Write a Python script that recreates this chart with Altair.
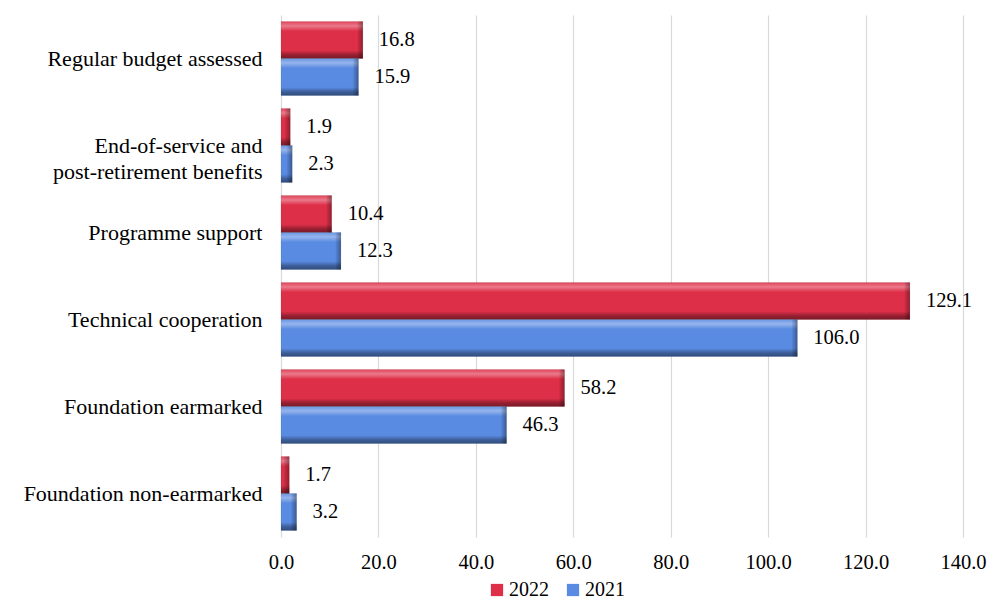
import altair as alt
import pandas as pd

# Budget categories, top to bottom
categories = [
    "Regular budget assessed",
    "End-of-service and\npost-retirement benefits",
    "Programme support",
    "Technical cooperation",
    "Foundation earmarked",
    "Foundation non-earmarked",
]
values_2022 = [16.8, 1.9, 10.4, 129.1, 58.2, 1.7]
values_2021 = [15.9, 2.3, 12.3, 106.0, 46.3, 3.2]
years = ["2022", "2021"]
x_ticks = [0, 20, 40, 60, 80, 100, 120, 140]

rows = []
for cat, v22, v21 in zip(categories, values_2022, values_2021):
    rows.append({"category": cat, "year": "2022", "value": v22})
    rows.append({"category": cat, "year": "2021", "value": v21})
df = pd.DataFrame(rows)

FONT = "Liberation Serif"

y_enc = alt.Y(
    "category:N",
    sort=categories,
    title=None,
    scale=alt.Scale(paddingInner=0.15, paddingOuter=0.075),
    axis=alt.Axis(
        labelExpr="split(datum.label, '\\n')",
        labelFontSize=22,
        labelColor="#000000",
        labelPadding=19,
        labelLineHeight=26,
        labelLimit=400,
        ticks=False,
        domain=False,
        grid=False,
    ),
)
yoff_enc = alt.YOffset("year:N", sort=years, scale=alt.Scale(paddingInner=0, paddingOuter=0))
x_enc = alt.X(
    "value:Q",
    title=None,
    scale=alt.Scale(domain=[0, 140], nice=False),
    axis=alt.Axis(
        values=x_ticks,
        format=".1f",
        labelFontSize=20.5,
        labelColor="#000000",
        labelPadding=15,
        labelFlush=False,
        labelOverlap=False,
        ticks=False,
        domain=False,
        grid=True,
        gridColor="#D9D9D9",
        gridWidth=1.2,
    ),
)

base = alt.Chart(df)

bars = base.mark_bar(stroke="#00000022", strokeWidth=0.6).encode(
    y=y_enc,
    yOffset=yoff_enc,
    x=x_enc,
    color=alt.Color(
        "year:N",
        sort=years,
        scale=alt.Scale(domain=years, range=["#DE2F48", "#5A8BE2"]),
        legend=alt.Legend(
            title=None,
            orient="none",
            direction="horizontal",
            legendX=206,
            legendY=565,
            symbolType="square",
            symbolSize=150,
            symbolStrokeWidth=0,
            labelFontSize=20,
            labelColor="#000000",
            labelOffset=2,
            columnPadding=14,
        ),
    ),
)

# Bevel shading: light top edge, dark bottom edge
bevel = base.mark_bar(
    color=alt.Gradient(
        gradient="linear",
        x1=0, y1=0, x2=0, y2=1,
        stops=[
            alt.GradientStop(offset=0.0, color="rgba(255,255,255,0.10)"),
            alt.GradientStop(offset=0.12, color="rgba(255,255,255,0.36)"),
            alt.GradientStop(offset=0.26, color="rgba(255,255,255,0.0)"),
            alt.GradientStop(offset=0.78, color="rgba(0,0,0,0.0)"),
            alt.GradientStop(offset=0.9, color="rgba(0,0,0,0.32)"),
            alt.GradientStop(offset=1.0, color="rgba(0,0,0,0.45)"),
        ],
    )
).encode(y=y_enc, yOffset=yoff_enc, x=x_enc)

# Darker cap at the right end of every bar
cap = base.transform_calculate(
    start="max(0, datum.value - 1.1)"
).mark_bar(
    color=alt.Gradient(
        gradient="linear",
        x1=0, y1=0, x2=1, y2=0,
        stops=[
            alt.GradientStop(offset=0.0, color="rgba(0,0,0,0.05)"),
            alt.GradientStop(offset=1.0, color="rgba(0,0,0,0.35)"),
        ],
    )
).encode(
    y=y_enc,
    yOffset=yoff_enc,
    x=alt.X("start:Q"),
    x2="value:Q",
)

labels = base.mark_text(
    align="left", baseline="middle", dx=16, fontSize=20.5, color="#000000"
).encode(
    y=y_enc,
    yOffset=yoff_enc,
    x=x_enc,
    text=alt.Text("value:Q", format=".1f"),
)

chart = (
    alt.layer(bars, bevel, cap, labels)
    .properties(
        width=682,
        height=522,
        autosize=alt.AutoSizeParams(type="none"),
        padding={"left": 281, "top": 15, "right": 24, "bottom": 64},
        background="#FFFFFF",
    )
    .configure(font=FONT)
    .configure_view(stroke=None)
)

chart.save("out.html", embed_options={"renderer": "svg", "actions": False})
